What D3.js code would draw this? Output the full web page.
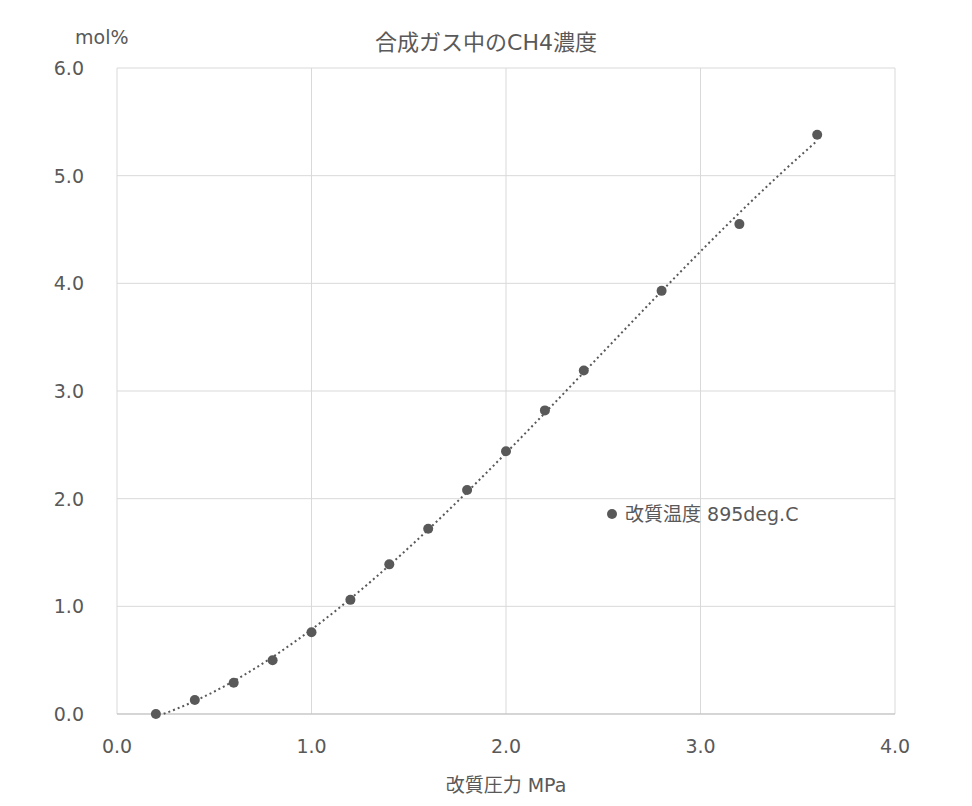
<!DOCTYPE html>
<html><head><meta charset="utf-8">
<script src="https://cdn.jsdelivr.net/npm/d3@7"></script>
<style>body{margin:0;background:#fff}text{font-family:"DejaVu Sans","Noto Sans CJK JP",sans-serif;fill:#595959}</style>
</head><body><svg id="c" width="972" height="806"></svg>
<script>
// pressure (MPa) vs CH4 concentration (mol%)
var pressure = [0.2, 0.4, 0.6, 0.8, 1.0, 1.2, 1.4, 1.6, 1.8, 2.0, 2.2, 2.4, 2.8, 3.2, 3.6];
var ch4 = [0.0, 0.13, 0.29, 0.50, 0.76, 1.06, 1.39, 1.72, 2.08, 2.44, 2.82, 3.19, 3.93, 4.55, 5.38];
var xTicks = [0, 1, 2, 3, 4];
var yTicks = [0, 1, 2, 3, 4, 5, 6];

var svg = d3.select('#c');
var x = d3.scaleLinear().domain([0, 4]).range([117, 895]);
var y = d3.scaleLinear().domain([0, 6]).range([714, 68]);

svg.selectAll('.gx').data(xTicks).enter().append('line')
  .attr('x1', d => x(d)).attr('x2', d => x(d)).attr('y1', y(0)).attr('y2', y(6))
  .attr('stroke', '#d9d9d9');
svg.selectAll('.gy').data(yTicks).enter().append('line')
  .attr('x1', x(0)).attr('x2', x(4)).attr('y1', d => y(d)).attr('y2', d => y(d))
  .attr('stroke', '#d9d9d9');
svg.append('line').attr('x1', x(0)).attr('x2', x(4)).attr('y1', y(0)).attr('y2', y(0)).attr('stroke', '#bfbfbf');

svg.selectAll('.tx').data(xTicks).enter().append('text')
  .attr('x', d => x(d)).attr('y', 753).attr('text-anchor', 'middle').attr('font-size', 19)
  .text(d => d.toFixed(1));
svg.selectAll('.ty').data(yTicks).enter().append('text')
  .attr('x', 84).attr('y', d => y(d) + 7).attr('text-anchor', 'end').attr('font-size', 19)
  .text(d => d.toFixed(1));

// cubic least-squares trendline
function fit(xs, ys, deg) {
  var n = deg + 1, A = [];
  for (var i = 0; i < n; i++) {
    A.push([]);
    for (var j = 0; j <= n; j++) {
      var v = 0;
      xs.forEach(function (xi, k) {
        v += j < n ? Math.pow(xi, i + j) : ys[k] * Math.pow(xi, i);
      });
      A[i].push(v);
    }
  }
  for (i = 0; i < n; i++) for (j = i + 1; j < n; j++) {
    var f = A[j][i] / A[i][i];
    for (var k = i; k <= n; k++) A[j][k] -= f * A[i][k];
  }
  var c = new Array(n).fill(0);
  for (i = n - 1; i >= 0; i--) {
    var s = A[i][n];
    for (j = i + 1; j < n; j++) s -= A[i][j] * c[j];
    c[i] = s / A[i][i];
  }
  return c;
}
var c = fit(pressure, ch4, 3);
var poly = p => c.reduce((a, ci, i) => a + ci * Math.pow(p, i), 0);
var tr = d3.range(0.2, 3.601, 0.02).map(p => [p, poly(p)]).filter(d => d[1] >= 0);
svg.append('path').datum(tr)
  .attr('d', d3.line().x(d => x(d[0])).y(d => y(d[1])))
  .attr('fill', 'none').attr('stroke', '#595959').attr('stroke-width', 2).attr('stroke-dasharray', '2,3');

svg.selectAll('.pt').data(pressure).enter().append('circle')
  .attr('cx', d => x(d)).attr('cy', (d, i) => y(ch4[i])).attr('r', 5).attr('fill', '#595959');

svg.append('text').attr('x', 486).attr('y', 50).attr('text-anchor', 'middle').attr('font-size', 22).text('合成ガス中のCH4濃度');
svg.append('text').attr('x', 75).attr('y', 44).attr('font-size', 19).text('mol%');
svg.append('text').attr('x', 506).attr('y', 792).attr('text-anchor', 'middle').attr('font-size', 19).text('改質圧力 MPa');
svg.append('circle').attr('cx', 612).attr('cy', 514).attr('r', 5).attr('fill', '#595959');
svg.append('text').attr('x', 625).attr('y', 521).attr('font-size', 19).text('改質温度 895deg.C');
</script></body></html>
